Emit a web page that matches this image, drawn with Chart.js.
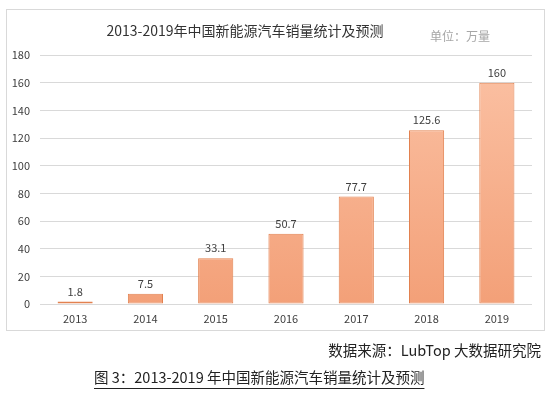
<!DOCTYPE html>
<html>
<head>
<meta charset="utf-8">
<script src="https://cdn.jsdelivr.net/npm/chart.js@4/dist/chart.umd.min.js"></script>
<style>
  html, body { margin: 0; padding: 0; background: #fff; }
  #wrap { width: 558px; height: 397px; position: relative; }
</style>
</head>
<body>
<div id="wrap"><canvas id="chart"></canvas></div>
<script>
const years = ['2013', '2014', '2015', '2016', '2017', '2018', '2019'];
const sales = [1.8, 7.5, 33.1, 50.7, 77.7, 125.6, 160];
const yTicks = [0, 20, 40, 60, 80, 100, 120, 140, 160, 180];

const titleText = '2013-2019年中国新能源汽车销量统计及预测';
const unitText = '单位：万量';
const sourceText = '数据来源：LubTop 大数据研究院';
const captionText = '图 3：2013-2019 年中国新能源汽车销量统计及预测';

const sans = '"Noto Sans CJK SC", "Open Sans", sans-serif';

// frame, titles, value labels and notes under the chart
const extras = {
    id: 'extras',
    beforeDraw(chart) {
        const ctx = chart.ctx;
        ctx.save();
        ctx.strokeStyle = '#d9d9d9';
        ctx.lineWidth = 1;
        ctx.strokeRect(6.5, 9.5, 538, 321);
        ctx.restore();
    },
    afterDraw(chart) {
        const ctx = chart.ctx;
        ctx.save();
        ctx.textBaseline = 'middle';

        ctx.fillStyle = '#333';
        ctx.font = '14px ' + sans;
        ctx.textAlign = 'center';
        ctx.fillText(titleText, 245, 31);

        ctx.fillStyle = '#a6a6a6';
        ctx.font = '12px ' + sans;
        ctx.textAlign = 'left';
        ctx.fillText(unitText, 430, 36);

        // values above bars
        const meta = chart.getDatasetMeta(0);
        ctx.fillStyle = '#404040';
        ctx.font = '11px ' + sans;
        ctx.textAlign = 'center';
        meta.data.forEach((bar, i) => {
            ctx.fillText(String(sales[i]), bar.x, bar.y - 10);
        });

        ctx.fillStyle = '#222';
        ctx.font = '14.5px ' + sans;
        ctx.textAlign = 'right';
        ctx.fillText(sourceText, 541, 350);

        ctx.textAlign = 'left';
        ctx.fillText(captionText, 94, 377);
        const w = ctx.measureText(captionText).width;
        ctx.strokeStyle = '#222';
        ctx.lineWidth = 1;
        ctx.beginPath();
        ctx.moveTo(94, 388.5);
        ctx.lineTo(94 + w, 388.5);
        ctx.stroke();
        ctx.restore();
    }
};

function barFill(context) {
    const chart = context.chart;
    const area = chart.chartArea;
    if (!area) return '#f6b08e';
    const g = chart.ctx.createLinearGradient(0, area.top, 0, area.bottom);
    g.addColorStop(0, '#fbc2a5');
    g.addColorStop(1, '#f3a078');
    return g;
}

new Chart(document.getElementById('chart').getContext('2d'), {
    type: 'bar',
    data: {
        labels: years,
        datasets: [{
            data: sales,
            backgroundColor: barFill,
            borderColor: '#e2814f',
            borderWidth: 1,
            borderSkipped: false,
            categoryPercentage: 1,
            barPercentage: 0.5
        }]
    },
    options: {
        responsive: true,
        maintainAspectRatio: false,
        animation: false,
        layout: {
            padding: { top: 55, right: 26, bottom: 65, left: 0 }
        },
        plugins: {
            legend: { display: false },
            title: { display: false },
            tooltip: { enabled: false }
        },
        scales: {
            x: {
                grid: { display: false, drawTicks: false },
                border: { display: false },
                ticks: {
                    color: '#404040',
                    padding: 8,
                    font: { family: sans, size: 11 }
                },
                afterFit(scale) { scale.height = 28; }
            },
            y: {
                min: 0,
                max: 180,
                afterBuildTicks(scale) {
                    scale.ticks = yTicks.map(v => ({ value: v }));
                },
                grid: { color: '#d9d9d9', drawTicks: false },
                border: { display: false },
                ticks: {
                    color: '#404040',
                    padding: 10,
                    font: { family: sans, size: 11 }
                },
                afterFit(scale) { scale.width = 40; }
            }
        }
    },
    plugins: [extras]
});
</script>
</body>
</html>
